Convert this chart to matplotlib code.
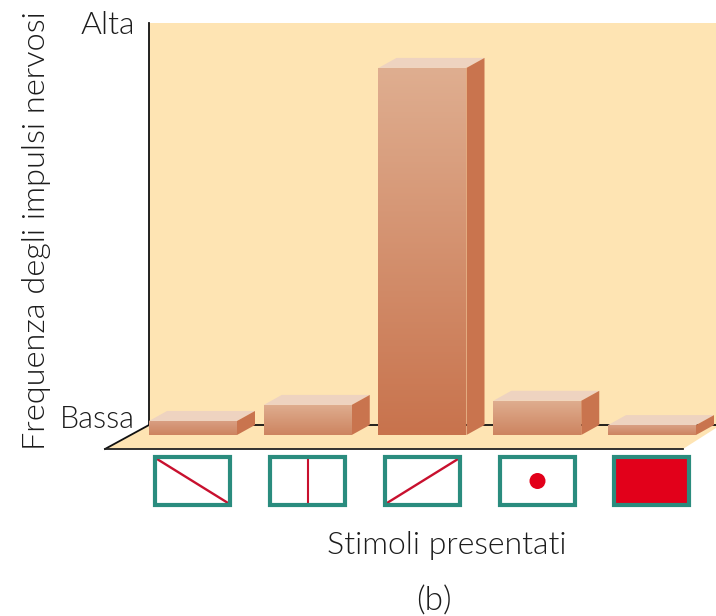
import numpy as np
import matplotlib.pyplot as plt
from matplotlib.colors import LinearSegmentedColormap
from matplotlib.patches import Circle, Polygon, Rectangle
from matplotlib.transforms import Affine2D

plt.rcParams["font.family"] = ["Lato", "DejaVu Sans"]
plt.rcParams["font.weight"] = 300

# dati (scala arbitraria, 100 = Alta)
stimoli = ["diag_giu", "verticale", "diag_su", "punto", "pieno"]
frequenza = [3.4, 7.3, 89.1, 8.3, 2.4]

W, H = 716, 616
PX_X = 114.75   # pixel per categoria
PX_Y = 4.12     # pixel per unita
X0, Y0 = 193, 435

CREMA = "#fee4b3"
TOP = "#eed3c0"
SIDE = "#c9744e"
TEAL = "#2a8c7e"
RED = "#e2001a"
INK = "#1c1c1c"

fig = plt.figure(figsize=(W / 100, H / 100), dpi=100)
ax = fig.add_axes([0, 0, 1, 1])
ax.axis("off")

# trasformazione in pixel per sfondo e decorazioni
px = Affine2D().scale(1, -1).translate(0, H)

# pannello di fondo e pavimento
ax.add_patch(Rectangle((149, 23), W - 149, 402, fc=CREMA, ec="none", transform=px, zorder=1))
ax.add_patch(Polygon([(149, 425), (716, 425), (716, 428), (683, 449), (105, 449)],
                     fc=CREMA, ec="none", transform=px, zorder=1))
ax.plot([149, 149, 105], [23, 425, 449], color="#111111", lw=1.3, transform=px, zorder=2)
ax.plot([149, 716], [425, 425], color="#111111", lw=1.3, transform=px, zorder=2)
ax.plot([105, 683], [449, 449], color="#222222", lw=1.3, transform=px, zorder=2)

# barre 3D
BAR_W = 88 / PX_X
DX = 18 / PX_X
DY = 10 / PX_Y
xs = np.arange(len(frequenza))
bars = ax.bar(xs, frequenza, width=BAR_W, color="none", zorder=4)
for x, v, bar in zip(xs, frequenza, bars):
    left, right = x - BAR_W / 2, x + BAR_W / 2
    ax.add_patch(Polygon([(left, v), (right, v), (right + DX, v + DY), (left + DX, v + DY)],
                         fc=TOP, ec="none", zorder=3))
    ax.add_patch(Polygon([(right, 0), (right + DX, DY), (right + DX, v + DY), (right, v)],
                         fc=SIDE, ec="none", zorder=3))
    low = "#c8734d" if v > 50 else "#cd8460"
    cmap = LinearSegmentedColormap.from_list("b", ["#dfae90" if v > 5 else "#d9a084", low])
    im = ax.imshow(np.linspace(0, 1, 128)[:, None], cmap=cmap, aspect="auto",
                   extent=(left, right, 0, v), origin="upper", zorder=3.5)
    im.set_clip_path(bar)

# riquadri degli stimoli
BOX_L = [153, 268, 383, 498, 612]
BOX_W, BOX_H, BOX_T = 79, 52, 455
for nome, l in zip(stimoli, BOX_L):
    r, t, b = l + BOX_W, BOX_T, BOX_T + BOX_H
    if nome == "pieno":
        ax.add_patch(Rectangle((l, t), BOX_W, BOX_H, fc=RED, ec="none", transform=px, zorder=3))
    elif nome == "punto":
        ax.add_patch(Circle((l + BOX_W / 2, t + BOX_H / 2), 8, fc=RED, ec="none", transform=px, zorder=3))
    elif nome == "verticale":
        ax.plot([l + BOX_W / 2] * 2, [t + 3, b - 3], color="#c8102e", lw=1.5, transform=px, zorder=3)
    elif nome == "diag_giu":
        ax.plot([l + 4, r - 4], [t + 4, b - 4], color="#c8102e", lw=1.7, transform=px, zorder=3)
    elif nome == "diag_su":
        ax.plot([l + 4, r - 4], [b - 4, t + 4], color="#c8102e", lw=1.7, transform=px, zorder=3)
    ax.add_patch(Rectangle((l + 2, t + 2), BOX_W - 4, BOX_H - 4, fc="none", ec=TEAL, lw=3,
                           joinstyle="miter", transform=px, zorder=4))

# testi
ax.text(135, 25, "Alta", ha="right", va="center", fontsize=23, color=INK, transform=px)
ax.text(135, 419, "Bassa", ha="right", va="center", fontsize=22, color=INK, transform=px)
ax.text(37, 231, "Frequenza degli impulsi nervosi", rotation=90, ha="center", va="center",
        fontsize=23.4, color=INK, transform=px)
ax.text(447, 545, "Stimoli presentati", ha="center", va="center", fontsize=23, color=INK, transform=px)
ax.text(434, 601, "(b)", ha="center", va="center", fontsize=24, color=INK, transform=px)

ax.set_xlim(-X0 / PX_X, (W - X0) / PX_X)
ax.set_ylim(-(H - Y0) / PX_Y, Y0 / PX_Y)

fig.savefig("out.png", dpi=100, facecolor="white")
